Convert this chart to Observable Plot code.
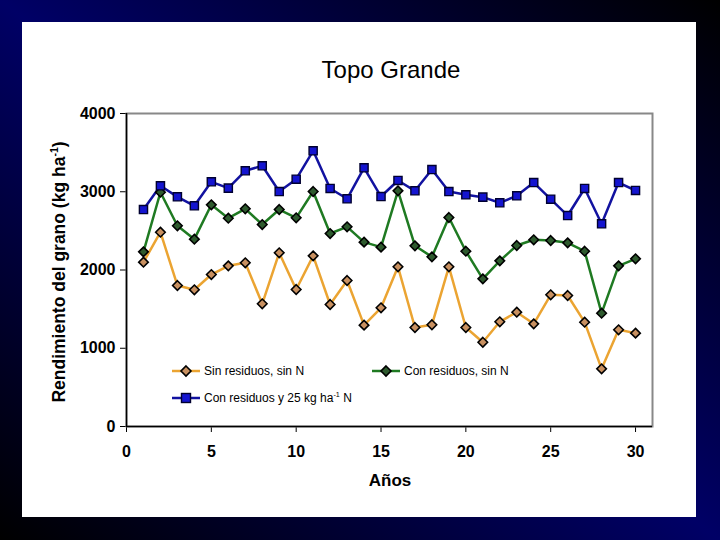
<!DOCTYPE html>
<html>
<head>
<meta charset="utf-8">
<script src="https://cdn.jsdelivr.net/npm/d3@7"></script>
<script src="https://cdn.jsdelivr.net/npm/@observablehq/plot@0.6"></script>
<style>
  html, body { margin: 0; padding: 0; }
  body { width: 720px; height: 540px; overflow: hidden;
         background: linear-gradient(to bottom left, #000000 0%, #000066 50%, #000000 100%);
         font-family: "Liberation Sans", Arial, sans-serif; }
  #wrap { position: absolute; left: 0; top: 0; width: 720px; height: 540px; }
  #panel { position: absolute; left: 22px; top: 22px; width: 674px; height: 495px; background: #fff; }
  #chart { position: absolute; left: 22px; top: 22px; }
  .abs { position: absolute; color: #000; white-space: nowrap; }
  #title { left: 191px; width: 400px; top: 55px; text-align: center; font-size: 24px; line-height: 30px; }
  #xlabel { left: 290px; width: 200px; top: 470px; text-align: center; font-size: 17px; font-weight: bold; line-height: 22px; }
  #ylabel { left: -141px; width: 400px; top: 261px; text-align: center; font-size: 17.5px; font-weight: bold; line-height: 22px; transform: rotate(-90deg); }
  #ylabel sup, .leg sup { font-size: 60%; line-height: 0; }
  .leg { position: absolute; font-size: 12px; line-height: 16px; display: flex; align-items: center; color: #000; white-space: nowrap; }
  .leg svg { margin-right: 4px; }
</style>
</head>
<body>
<div id="wrap">
  <div id="panel"></div>
  <div id="chart"></div>
  <div id="title" class="abs">Topo Grande</div>
  <div id="xlabel" class="abs">Años</div>
  <div id="ylabel" class="abs">Rendimiento del grano (kg ha<sup>-1</sup>)</div>
  <div id="legend"></div>
</div>
<script>
// ---- data ----
const years = [1,2,3,4,5,6,7,8,9,10,11,12,13,14,15,16,17,18,19,20,21,22,23,24,25,26,27,28,29,30];
const sinResSinN = [2100,2483,1802,1747,1942,2053,2092,1568,2220,1751,2181,1559,1866,1295,1517,
                    2041,1265,1300,2041,1265,1077,1338,1461,1312,1683,1674,1333,737,1236,1193];
const conResSinN = [2232,2994,2565,2394,2833,2662,2782,2581,2773,2667,3003,2466,2552,2356,2292,
                    3012,2309,2168,2671,2240,1887,2117,2313,2386,2377,2347,2240,1448,2053,2143];
const conRes25N  = [2773,3076,2935,2820,3127,3046,3268,3332,3003,3160,3523,3042,2910,3306,2939,
                    3144,3012,3284,3003,2961,2931,2859,2948,3118,2905,2696,3042,2590,3118,3016];
const xTicks = [0,5,10,15,20,25,30];
const yTicks = [0,1000,2000,3000,4000];
const seriesNames = ["Sin residuos, sin N", "Con residuos, sin N", "Con residuos y 25 kg ha-1 N"];

const colors = {
  orangeLine: "#eba432", orangeFill: "#c89060",
  greenLine: "#1f7a22", greenFill: "#2e5a2e",
  blueLine: "#1212a0", blueFill: "#1414d0"
};

const toRows = (vals) => years.map((y, i) => ({year: y, value: vals[i]}));
const s1 = toRows(sinResSinN), s2 = toRows(conResSinN), s3 = toRows(conRes25N);

const chart = Plot.plot({
  width: 674, height: 495,
  marginLeft: 104, marginRight: 44, marginTop: 91, marginBottom: 91,
  style: { fontFamily: "'Liberation Sans', Arial, sans-serif", fontSize: "16px", fontWeight: "bold", background: "transparent", color: "#000" },
  x: { domain: [0, 31], ticks: xTicks, tickSize: 6, tickPadding: 13, label: null, tickFormat: d => String(d) },
  y: { domain: [0, 4000], ticks: yTicks, tickSize: 6, tickPadding: 5, label: null, tickFormat: d => String(d) },
  marks: [
    Plot.frame({ stroke: "#888", strokeWidth: 2 }),
    Plot.ruleX([0], { stroke: "#000", strokeWidth: 1.5 }),
    Plot.ruleY([0], { stroke: "#000", strokeWidth: 1.5 }),
    Plot.line(s1, { x: "year", y: "value", stroke: colors.orangeLine, strokeWidth: 2.5 }),
    Plot.line(s2, { x: "year", y: "value", stroke: colors.greenLine, strokeWidth: 2.5 }),
    Plot.line(s3, { x: "year", y: "value", stroke: colors.blueLine, strokeWidth: 2.5 }),
    Plot.dot(s1, { x: "year", y: "value", symbol: "diamond2", r: 4.3, fill: colors.orangeFill, stroke: "#000", strokeWidth: 1.6 }),
    Plot.dot(s2, { x: "year", y: "value", symbol: "diamond2", r: 4.3, fill: colors.greenFill, stroke: "#000", strokeWidth: 1.6 }),
    Plot.dot(s3, { x: "year", y: "value", symbol: "square", r: 4.6, fill: colors.blueFill, stroke: "#000030", strokeWidth: 1.4 })
  ]
});
document.getElementById("chart").appendChild(chart);

// ---- legend (HTML) ----
function swatch(line, fill, kind) {
  const marker = kind === "square"
    ? `<rect x="9.5" y="3.5" width="9" height="9" fill="${fill}" stroke="#000030" stroke-width="1.4"/>`
    : `<path d="M14 3 L19 8 L14 13 L9 8 Z" fill="${fill}" stroke="#000" stroke-width="1.6"/>`;
  return `<svg width="28" height="16"><line x1="0" y1="8" x2="28" y2="8" stroke="${line}" stroke-width="2.5"/>${marker}</svg>`;
}
const legendItems = [
  { left: 172, top: 363, html: swatch(colors.orangeLine, colors.orangeFill, "diamond") + `<span>${seriesNames[0]}</span>` },
  { left: 372, top: 363, html: swatch(colors.greenLine, colors.greenFill, "diamond") + `<span>${seriesNames[1]}</span>` },
  { left: 172, top: 390, html: swatch(colors.blueLine, colors.blueFill, "square") + `<span>Con residuos y 25 kg ha<sup>-1</sup> N</span>` }
];
const legend = document.getElementById("legend");
legendItems.forEach(it => {
  const d = document.createElement("div");
  d.className = "leg";
  d.style.left = it.left + "px";
  d.style.top = it.top + "px";
  d.innerHTML = it.html;
  legend.appendChild(d);
});
</script>
</body>
</html>
